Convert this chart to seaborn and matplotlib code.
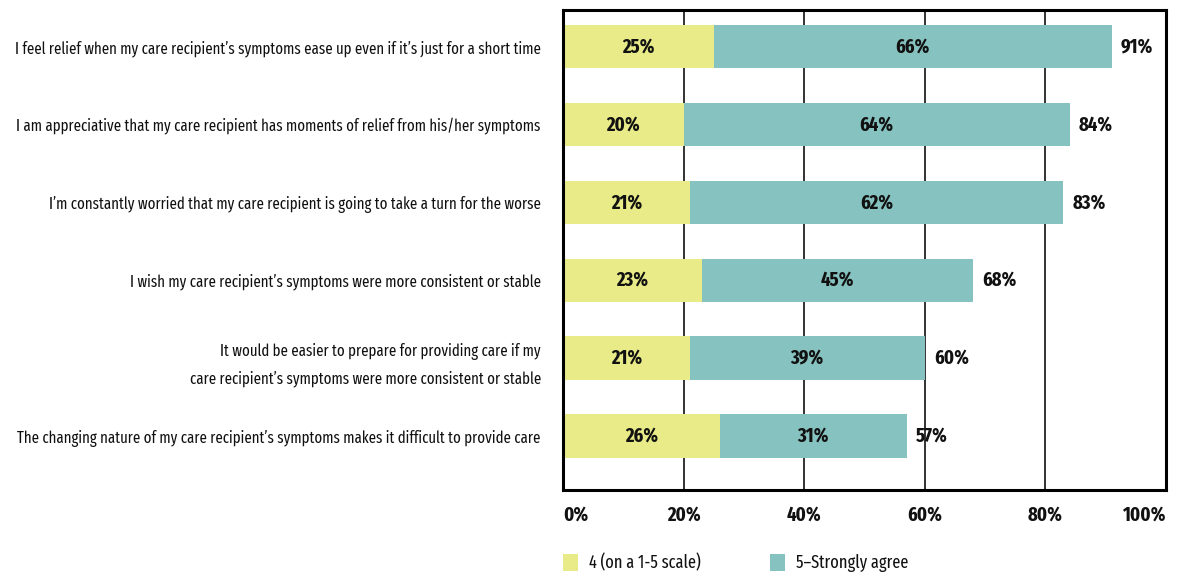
import matplotlib
matplotlib.use("Agg")
import matplotlib.pyplot as plt
from matplotlib.patches import Patch
import seaborn as sns
import pandas as pd

categories = [
    "I feel relief when my care recipient\u2019s symptoms ease up even if it\u2019s just for a short time",
    "I am appreciative that my care recipient has moments of relief from his/her symptoms",
    "I\u2019m constantly worried that my care recipient is going to take a turn for the worse",
    "I wish my care recipient\u2019s symptoms were more consistent or stable",
    "It would be easier to prepare for providing care if my\ncare recipient\u2019s symptoms were more consistent or stable",
    "The changing nature of my care recipient\u2019s symptoms makes it difficult to provide care",
]
agree_4 = [25, 20, 21, 23, 21, 26]
strongly_5 = [66, 64, 62, 45, 39, 31]
totals = [91, 84, 83, 68, 60, 57]
tick_values = [0, 20, 40, 60, 80, 100]
series_names = ["4 (on a 1-5 scale)", "5\u2013Strongly agree"]

YELLOW = "#e8eb87"
TEAL = "#86c2bf"

sns.set_theme(style="white")
plt.rcParams["font.family"] = ["Fira Sans Extra Condensed", "Barlow Condensed",
                               "Roboto Condensed", "DejaVu Sans"]

df = pd.DataFrame({"statement": categories, "agree4": agree_4,
                   "strong5": strongly_5, "total": totals})

fig = plt.figure(figsize=(11.82, 5.79), dpi=100)
ax = fig.add_axes([563 / 1182, 1 - 490 / 579, (1166 - 563) / 1182, 480 / 579])

# full bar in teal, the "4" share painted over it from the left
sns.barplot(data=df, y="statement", x="total", color=TEAL, orient="h",
            width=0.56, ax=ax, saturation=1, linewidth=0)
sns.barplot(data=df, y="statement", x="agree4", color=YELLOW, orient="h",
            width=0.56, ax=ax, saturation=1, linewidth=0)

ax.set_xlim(0, 100)
ax.set_ylim(5.69, -0.47)
ax.set_xlabel("")
ax.set_ylabel("")

LABEL_SIZE = 14.5
ax.set_xticks(tick_values)
ax.set_xticklabels([f"{v}%" for v in tick_values], fontsize=LABEL_SIZE,
                   fontweight="bold", color="#111111")
labels = ax.get_xticklabels()
labels[0].set_ha("left")
labels[-1].set_ha("right")
ax.tick_params(axis="x", length=0, pad=11)
ax.tick_params(axis="y", length=0, pad=16)
for lab in ax.get_yticklabels():
    lab.set_fontsize(11.6)
    lab.set_color("#111111")
    lab.set_ha("right")
    lab.set_multialignment("right")
    lab.set_linespacing(1.8)

ax.grid(axis="x", color="#222222", linewidth=1.3)
ax.grid(axis="y", visible=False)
ax.set_axisbelow(True)
for s in ax.spines.values():
    s.set_visible(True)
    s.set_color("black")
    s.set_linewidth(2.2)

for i, (a, s, t) in enumerate(zip(agree_4, strongly_5, totals)):
    ax.text(a / 2, i, f"{a}%", ha="center", va="center", fontsize=LABEL_SIZE,
            fontweight="bold", color="#111111")
    ax.text(a + s / 2, i, f"{s}%", ha="center", va="center", fontsize=LABEL_SIZE,
            fontweight="bold", color="#111111")
    ax.annotate(f"{t}%", xy=(a + s, i), xytext=(9, 0), textcoords="offset pixels",
                ha="left", va="center", fontsize=LABEL_SIZE, fontweight="bold",
                color="#111111")

handles = [Patch(facecolor=YELLOW, edgecolor="none"),
           Patch(facecolor=TEAL, edgecolor="none")]
fig.legend(handles, series_names, loc="center left",
           bbox_to_anchor=(563 / 1182, 1 - 563 / 579), ncol=2, frameon=False,
           fontsize=12.8, handlelength=0.85, handleheight=1.15,
           handletextpad=0.6, columnspacing=3.9, borderpad=0,
           borderaxespad=0, labelcolor="#111111")

fig.savefig("out.png", dpi=100)
